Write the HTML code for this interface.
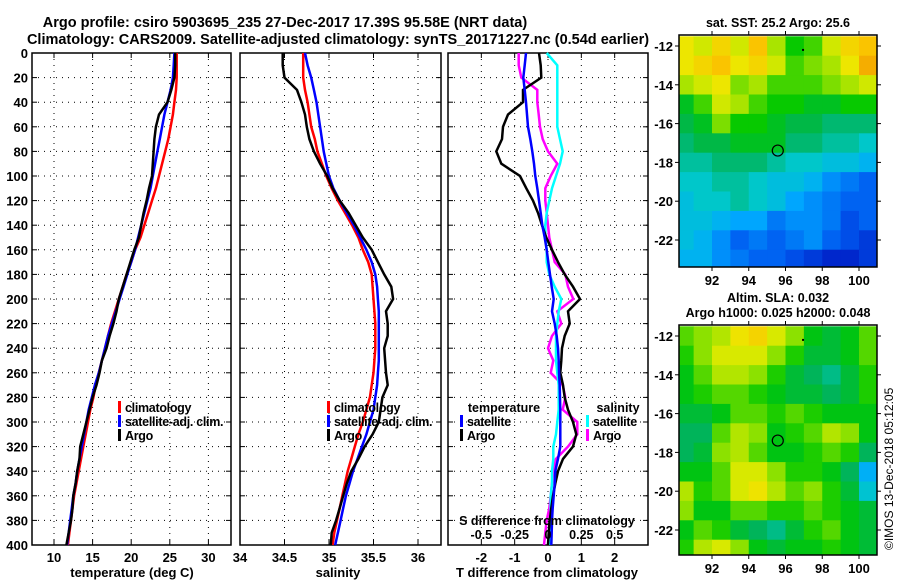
<!DOCTYPE html>
<html><head><meta charset="utf-8"><style>
html,body{margin:0;padding:0;background:#fff;width:900px;height:580px;overflow:hidden}
svg{display:block}
text{font-family:"Liberation Sans",Arial,sans-serif;font-weight:bold;fill:#000}
</style></head><body>
<svg id="chart" width="900" height="580" viewBox="0 0 900 580" xmlns="http://www.w3.org/2000/svg">
<text x="285" y="27" font-size="14.5" text-anchor="middle">Argo profile: csiro 5903695_235 27-Dec-2017 17.39S 95.58E (NRT data)</text>
<text x="338" y="44" font-size="14.5" text-anchor="middle">Climatology: CARS2009. Satellite-adjusted climatology: synTS_20171227.nc (0.54d earlier)</text>
<g id="g"></g>
<text transform="translate(893,550) rotate(-90)" font-size="12" style="font-weight:normal">©IMOS 13-Dec-2018 05:12:05</text>
</svg>
<script>
// ---- data ----
const depths = [0,10,20,30,40,50,60,70,80,90,100,110,120,130,140,150,160,170,180,190,200,210,220,230,240,250,260,270,280,290,300,310,320,330,340,350,360,370,380,390,400];
const tempClim = [25.9,25.9,25.9,25.8,25.6,25.4,25.1,24.8,24.4,24.0,23.6,23.2,22.7,22.2,21.7,21.2,20.5,20.0,19.4,18.9,18.4,17.9,17.4,17.0,16.6,16.2,15.8,15.4,15.1,14.7,14.4,14.1,13.8,13.5,13.2,12.9,12.6,12.4,12.2,12.0,11.8];
const tempSat = [25.6,25.5,25.4,25.1,24.7,24.3,24.0,23.7,23.4,23.1,22.8,22.5,22.1,21.7,21.3,20.9,20.5,20.0,19.5,19.0,18.5,18.0,17.5,17.0,16.6,16.2,15.8,15.3,14.9,14.5,14.2,13.9,13.6,13.3,13.0,12.8,12.5,12.3,12.1,11.9,11.7];
const tempArgo = [25.7,25.7,25.6,25.2,24.7,23.6,23.2,23.0,22.9,22.8,22.7,22.3,22.0,21.6,21.3,21.0,20.4,19.9,19.4,18.9,18.4,18.1,17.7,17.2,16.8,16.2,15.9,15.5,15.0,14.6,14.2,13.8,13.4,13.3,13.0,12.8,12.5,12.4,12.2,11.9,11.6];
const salClim = [34.71,34.71,34.71,34.73,34.76,34.78,34.8,34.84,34.87,34.92,34.97,35.03,35.1,35.18,35.26,35.33,35.38,35.44,35.48,35.49,35.50,35.51,35.52,35.52,35.52,35.51,35.50,35.48,35.46,35.42,35.38,35.33,35.29,35.25,35.21,35.18,35.15,35.12,35.09,35.06,35.04];
const salSat = [34.73,34.76,34.8,34.83,34.86,34.88,34.9,34.92,34.94,34.97,35.0,35.05,35.12,35.2,35.28,35.35,35.42,35.48,35.52,35.54,35.55,35.56,35.56,35.56,35.56,35.56,35.55,35.54,35.52,35.5,35.46,35.42,35.37,35.32,35.27,35.23,35.19,35.16,35.13,35.1,35.07];
const salArgo = [34.48,34.48,34.5,34.64,34.69,34.73,34.75,34.78,34.83,34.9,34.98,35.04,35.12,35.22,35.3,35.38,35.48,35.55,35.62,35.7,35.72,35.64,35.66,35.66,35.62,35.63,35.64,35.66,35.6,35.58,35.56,35.49,35.4,35.33,35.25,35.2,35.16,35.12,35.08,35.03,35.02];
const tDiffSat = [-0.66,-0.7,-0.74,-0.7,-0.66,-0.63,-0.6,-0.53,-0.47,-0.42,-0.38,-0.32,-0.27,-0.22,-0.17,-0.1,-0.04,0.01,0.06,0.11,0.17,0.12,0.2,0.26,0.3,0.32,0.33,0.35,0.36,0.37,0.37,0.37,0.37,0.3,0.22,0.2,0.17,0.14,0.12,0.11,0.1];
const tDiffArgo = [-0.27,-0.22,-0.2,-0.75,-0.75,-1.2,-1.35,-1.38,-1.55,-1.4,-0.84,-0.65,-0.45,-0.3,-0.18,-0.05,0.12,0.3,0.5,0.75,0.96,0.6,0.65,0.5,0.42,0.4,0.37,0.45,0.5,0.6,0.75,0.85,0.75,0.45,0.3,0.22,0.15,0.1,0.05,0.02,0.0];
const sDiffSat = [-0.01,0.07,0.07,0.07,0.07,0.07,0.07,0.09,0.11,0.09,0.06,0.03,0.01,-0.01,-0.02,-0.02,-0.01,-0.01,0.01,0.05,0.1,0.08,0.07,0.06,0.06,0.06,0.07,0.08,0.08,0.08,0.07,0.06,0.04,0.04,0.03,0.03,0.02,0.02,0.02,0.015,0.01];
const sDiffArgo = [-0.22,-0.22,-0.2,-0.08,-0.08,-0.07,-0.06,-0.04,0.0,0.07,0.02,-0.02,-0.02,-0.01,0.0,0.01,0.03,0.05,0.13,0.15,0.19,0.07,0.1,0.03,0.0,0.04,0.02,0.11,0.13,0.11,0.22,0.22,0.15,0.06,0.04,0.03,0.02,0.01,-0.01,-0.02,-0.03];
const depthTicks = [0,20,40,60,80,100,120,140,160,180,200,220,240,260,280,300,320,340,360,380,400];
const tempTicks = [10,15,20,25,30];
const salTicks = [34,34.5,35,35.5,36];
const salTickLabels = ["34","34.5","35","35.5","36"];
const tdTicks = [-2,-1,0,1,2];
const sdTicks = [-0.5,-0.25,0,0.25,0.5];
const sdTickLabels = ["-0.5","-0.25","0","0.25","0.5"];
const mapLons = [90.5,91.5,92.5,93.5,94.5,95.5,96.5,97.5,98.5,99.5,100.5];
const mapLats = [-12,-13,-14,-15,-16,-17,-18,-19,-20,-21,-22,-23];
const lonTicks = [92,94,96,98,100];
const latTicks = [-12,-14,-16,-18,-20,-22];
const sstGrid = [
[26.0,25.9,26.1,25.9,26.2,25.8,25.5,25.6,25.9,26.1,26.2],
[26.0,26.1,26.2,26.0,26.1,25.9,25.6,25.7,25.8,26.0,26.3],
[25.8,25.9,26.0,25.7,25.8,25.6,25.6,25.6,25.7,25.8,25.9],
[25.4,25.6,25.9,25.8,25.6,25.5,25.5,25.4,25.4,25.5,25.5],
[25.3,25.4,25.7,25.5,25.5,25.4,25.3,25.3,25.2,25.2,25.2],
[25.2,25.3,25.3,25.4,25.4,25.4,25.2,25.2,25.1,25.1,25.0],
[25.1,25.1,25.2,25.2,25.2,25.1,25.0,25.0,24.9,24.9,24.8],
[25.0,25.0,25.1,25.1,25.0,24.9,24.9,24.8,24.6,24.5,24.4],
[24.9,25.0,25.0,25.1,25.0,24.9,24.7,24.6,24.5,24.4,24.4],
[24.9,24.9,24.8,24.7,24.7,24.5,24.6,24.6,24.5,24.3,24.4],
[24.9,24.8,24.6,24.4,24.5,24.4,24.5,24.6,24.4,24.3,24.2],
[24.8,24.8,24.6,24.5,24.4,24.4,24.3,24.2,24.1,24.1,24.2]];
const slaGrid = [
[0.07,0.08,0.09,0.11,0.12,0.10,0.08,0.05,0.04,0.05,0.07],
[0.06,0.08,0.10,0.10,0.10,0.08,0.06,0.04,0.04,0.05,0.07],
[0.05,0.07,0.09,0.09,0.08,0.06,0.04,0.03,0.02,0.04,0.06],
[0.05,0.06,0.07,0.07,0.06,0.05,0.04,0.04,0.03,0.04,0.06],
[0.04,0.04,0.05,0.07,0.07,0.06,0.07,0.06,0.05,0.05,0.05],
[0.03,0.03,0.07,0.09,0.08,0.05,0.06,0.07,0.09,0.08,0.05],
[0.03,0.04,0.08,0.09,0.07,0.05,0.05,0.06,0.07,0.06,0.03],
[0.05,0.05,0.07,0.10,0.10,0.08,0.06,0.06,0.05,0.03,-0.02],
[0.09,0.06,0.07,0.10,0.11,0.09,0.07,0.08,0.06,0.04,0.00],
[0.08,0.05,0.05,0.07,0.07,0.06,0.06,0.07,0.06,0.05,0.04],
[0.05,0.07,0.06,0.04,0.03,0.02,0.04,0.06,0.07,0.05,0.04],
[0.06,0.09,0.10,0.08,0.05,0.04,0.05,0.05,0.06,0.05,0.04]];
const argoLon = 95.58, argoLat = -17.39;

// ---- helpers ----
const NS = "http://www.w3.org/2000/svg";
const G = document.getElementById('g');
function mk(tag, attrs, parent){const e=document.createElementNS(NS,tag);for(const k in attrs)e.setAttribute(k,attrs[k]);(parent||G).appendChild(e);return e;}
const yTop=53, yBot=545;
const yD = d => yTop + d/400*(yBot-yTop);
function linScale(d0,d1,r0,r1){return v=>r0+(v-d0)/(d1-d0)*(r1-r0);}

function panel(name,x0,x1,xs,ticks,labels,ylabels){
  const frame = mk('rect',{x:x0,y:yTop,width:x1-x0,height:yBot-yTop,fill:'#fff',stroke:'#000','stroke-width':1.5});
  
  
  depthTicks.forEach(d=>{
    const y=yD(d);
    if(d>0&&d<400){const l=mk('line',{x1:x0,x2:x1,y1:y,y2:y,stroke:'#000','stroke-width':1,'stroke-dasharray':'1,5'});
      
      }
    mk('line',{x1:x0,x2:x0+5,y1:y,y2:y,stroke:'#000'});
    mk('line',{x1:x1-5,x2:x1,y1:y,y2:y,stroke:'#000'});
    if(ylabels){const t=mk('text',{x:28,y:y+5,'font-size':13,'text-anchor':'end'});t.textContent=d;
      
      }
  });
  ticks.forEach((v,i)=>{
    const x=xs(v);
    if(x>x0+1&&x<x1-1){const l=mk('line',{x1:x,x2:x,y1:yTop,y2:yBot,stroke:'#000','stroke-width':1,'stroke-dasharray':'1,5'});
      
      }
    mk('line',{x1:x,x2:x,y1:yBot,y2:yBot-5,stroke:'#000'});
    mk('line',{x1:x,x2:x,y1:yTop,y2:yTop+5,stroke:'#000'});
    const t=mk('text',{x:x,y:562,'font-size':13,'text-anchor':'middle'});t.textContent=labels[i];
    
    
  });
}
function series(name,vals,xs,color){
  const pts=vals.map((v,i)=>xs(v).toFixed(1)+','+yD(depths[i]).toFixed(1)).join(' ');
  const p=mk('polyline',{points:pts,fill:'none',stroke:color,'stroke-width':2.5,'stroke-linejoin':'miter'});
  
  
}
function legend(name,x,y,color,label){
  const r=mk('rect',{x:x,y:y-6,width:3,height:12,fill:color});
  
  
  const t=mk('text',{x:x+7,y:y+5,'font-size':12.5,'letter-spacing':'-0.3'});t.textContent=label;
  
  
}
function label(name,x,y,txt,size){const t=mk('text',{x:x,y:y,'font-size':size||13,'text-anchor':'middle'});t.textContent=txt;
  
  return t;}

// ---- panel 1: temperature ----
const xT = linScale(10,30,54,208.4);
panel('temperature-panel',32,231,xT,tempTicks,tempTicks.map(String),true);
series('temp-climatology-line',tempClim,xT,'#ff0000');
series('temp-satellite-line',tempSat,xT,'#0000ff');
series('temp-argo-line',tempArgo,xT,'#000000');
legend('legend-climatology',118,407,'#ff0000','climatology');
legend('legend-satellite-adj',118,421,'#0000ff','satellite-adj. clim.');
legend('legend-argo',118,435,'#000000','Argo');
label('temperature-x-axis-title',132,577,'temperature (deg C)');

// ---- panel 2: salinity ----
const xS = linScale(34,36,240,418);
panel('salinity-panel',240,441,xS,salTicks,salTickLabels,false);
series('sal-climatology-line',salClim,xS,'#ff0000');
series('sal-satellite-line',salSat,xS,'#0000ff');
series('sal-argo-line',salArgo,xS,'#000000');
legend('legend-sal-climatology',327,407,'#ff0000','climatology');
legend('legend-sal-satellite-adj',327,421,'#0000ff','satellite-adj. clim.');
legend('legend-sal-argo',327,435,'#000000','Argo');
label('salinity-x-axis-title',338,577,'salinity');

// ---- panel 3: differences ----
const xTD = linScale(-3,3,448,648);
const xSD = v => xTD(v*4);
panel('difference-panel',448,648,xTD,tdTicks,tdTicks.map(String),false);
series('sdiff-argo-line',sDiffArgo,xSD,'#ff00ff');
series('sdiff-satellite-line',sDiffSat,xSD,'#00ffff');
series('tdiff-argo-line',tDiffArgo,xTD,'#000000');
series('tdiff-satellite-line',tDiffSat,xTD,'#0000ff');
label('legend-temperature-heading',504,412,'temperature',12.5);
legend('legend-tdiff-satellite',460,421,'#0000ff','satellite');
legend('legend-tdiff-argo',460,435,'#000000','Argo');
label('legend-salinity-heading',618,412,'salinity',12.5);
legend('legend-sdiff-satellite',586,421,'#00ffff','satellite');
legend('legend-sdiff-argo',586,435,'#ff00ff','Argo');
label('s-diff-axis-title',547,525,'S difference from climatology',12.5);
sdTicks.forEach((v,i)=>{label('s-diff-tick-label',xSD(v),539,sdTickLabels[i],12.5);});
label('t-diff-x-axis-title',547,577,'T difference from climatology');

// ---- maps ----
const stops=[[0,0,20,190],[0.15,0,90,240],[0.3,0,170,255],[0.42,0,200,200],[0.52,0,180,90],[0.62,0,200,0],[0.72,140,225,0],[0.82,235,235,0],[0.92,250,195,0],[1,240,150,0]];
function cmap(t){t=Math.max(0,Math.min(1,t));for(let i=1;i<stops.length;i++){if(t<=stops[i][0]){const a=stops[i-1],b=stops[i],f=(t-a[0])/(b[0]-a[0]);return 'rgb('+[1,2,3].map(k=>Math.round(a[k]+f*(b[k]-a[k]))).join(',')+')';}}return 'rgb(240,150,0)';}
function map(name,top,bot,grid,vmin,vmax){
  const x0=679,x1=877;
  const xL=linScale(92,100,712,859);
  const yL=linScale(-12,-22,top+11,top+205);
  const cells=mk('g',{});
  
  
  grid.forEach((row,r)=>row.forEach((v,c)=>{
    let xa=xL(mapLons[c]-0.5),xb=xL(mapLons[c]+0.5),ya=yL(mapLats[r]+0.5),yb=yL(mapLats[r]-0.5);
    xa=Math.max(xa,x0);xb=Math.min(xb,x1);ya=Math.max(ya,top);yb=Math.min(yb,bot);
    const rc=mk('rect',{x:xa,y:ya,width:xb-xa+0.5,height:yb-ya+0.5,fill:cmap((v-vmin)/(vmax-vmin))},cells);
    
    
  }));
  const f=mk('rect',{x:x0,y:top,width:x1-x0,height:bot-top,fill:'none',stroke:'#000','stroke-width':1.5});
  
  
  lonTicks.forEach(v=>{const x=xL(v);mk('line',{x1:x,x2:x,y1:top,y2:top-4,stroke:'#000'});mk('line',{x1:x,x2:x,y1:bot,y2:bot+4,stroke:'#000'});
    label(name+'-lon-tick-label',x,bot+18,String(v));});
  latTicks.forEach(v=>{const y=yL(v);mk('line',{x1:x0,x2:x0-4,y1:y,y2:y,stroke:'#000'});mk('line',{x1:x1,x2:x1+4,y1:y,y2:y,stroke:'#000'});
    const t=mk('text',{x:673,y:y+5,'font-size':13,'text-anchor':'end'});t.textContent=String(v);
    
    });
  const c=mk('circle',{cx:xL(argoLon),cy:yL(argoLat),r:5.5,fill:'none',stroke:'#000','stroke-width':1.2});
  
  
  mk('rect',{x:xL(96.9),y:yL(-12.15),width:2,height:2,fill:'#000'});
}
map('sst-map',35,267,sstGrid,24.0,26.4);
label('sst-map-title',778,27,'sat. SST: 25.2 Argo: 25.6',12.5);
map('sla-map',325,555,slaGrid,-0.10,0.15);
label('sla-map-title-1',778,302,'Altim. SLA: 0.032',12.5);
label('sla-map-title-2',778,317,'Argo h1000: 0.025 h2000: 0.048',12.5);
</script>
</body></html>
